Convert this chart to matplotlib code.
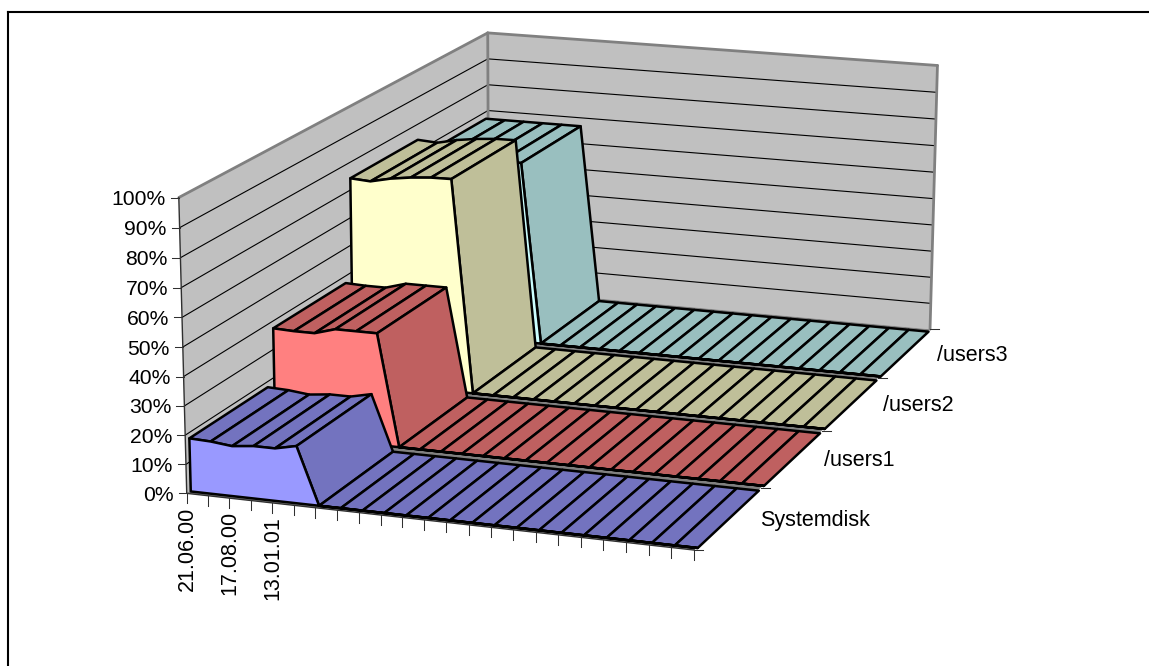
import numpy as np
import matplotlib
matplotlib.use("Agg")
import matplotlib.pyplot as plt
from matplotlib.lines import Line2D
from mpl_toolkits.mplot3d.art3d import Poly3DCollection, Line3DCollection
from mpl_toolkits.mplot3d import proj3d

plt.rcParams['font.family'] = ['Liberation Sans', 'DejaVu Sans']

# ---- data ----
series_names = ['Systemdisk', '/users1', '/users2', '/users3']
date_labels = ['21.06.00', '', '17.08.00', '', '13.01.01']
value_ticks = [0, 10, 20, 30, 40, 50, 60, 70, 80, 90, 100]
systemdisk = [18.3, 18, 17.2, 18, 18, 19.6, 0, 0, 0, 0, 0, 0, 0, 0, 0, 0, 0, 0, 0, 0, 0, 0, 0, 0]
users1 = [37.7, 37.4, 37.4, 39.5, 39.5, 39.5, 0, 0, 0, 0, 0, 0, 0, 0, 0, 0, 0, 0, 0, 0, 0, 0, 0, 0]
users2 = [74.5, 74, 75.6, 76.6, 77.2, 77.3, 0, 0, 0, 0, 0, 0, 0, 0, 0, 0, 0, 0, 0, 0, 0, 0, 0, 0]
users3 = [67.6, 67.6, 67.6, 67.6, 67.6, 67.6, 0, 0, 0, 0, 0, 0, 0, 0, 0, 0, 0, 0, 0, 0, 0, 0, 0, 0]
all_series = [systemdisk, users1, users2, users3]
front_colors = ['#9999FF', '#FF8080', '#FFFFCC', '#CCFFFF']
top_colors = ['#7373BF', '#BF6060', '#BFBF99', '#99BFBF']

# ---- camera: fitted from where the box corners sit on the canvas ----
W, H = 1149, 666
NX = len(systemdisk) - 1
ND = len(series_names)
TOP = value_ticks[-1]
box_corners = [(0, 0, 0), (0, 0, TOP), (0, ND, TOP), (0, ND, 0),
               (NX, ND, TOP), (NX, ND, 0), (NX, 0, 0)]
canvas_corners = [(186, 492), (179, 198), (488, 32), (489, 290),
                  (937, 66), (930, 328), (695, 551)]


def fit_camera(world, image):
    rows = []
    for (x, d, z), (u, v) in zip(world, image):
        p = [x / NX, d / ND, z / TOP, 1.0]
        rows.append(p + [0, 0, 0, 0] + [-u / W * c for c in p])
        rows.append([0, 0, 0, 0] + p + [-v / H * c for c in p])
    _, _, vt = np.linalg.svd(np.array(rows))
    P = vt[-1].reshape(3, 4)
    P = np.diag([W, H, 1.0]) @ P @ np.diag([1 / NX, 1 / ND, 1 / TOP, 1.0])
    return np.vstack([P[0], P[1], [0, 1, 0, 0], P[2]])


M = fit_camera(box_corners, canvas_corners)

fig = plt.figure(figsize=(W / 100, H / 100), dpi=100, facecolor='white')
ax = fig.add_axes([0, 0, 1, 1], projection='3d', computed_zorder=False)
ax.get_proj = lambda: M
ax.apply_aspect = lambda position=None: None
ax.M = M
ax.set_axis_off()
ax.viewLim.intervalx = (0, W)
ax.viewLim.intervaly = (H, 0)
ax.patch.set_visible(False)

order = [0]


def poly(verts, fc, ec='black', lw=1.8):
    order[0] += 1
    c = Poly3DCollection([verts], facecolors=fc, edgecolors=ec, linewidths=lw,
                         joinstyle='round', zorder=order[0])
    ax.add_collection3d(c, autolim=False)


def line(p, q, color='black', lw=0.8):
    order[0] += 1
    c = Line3DCollection([[p, q]], colors=color, linewidths=lw, zorder=order[0],
                         capstyle='round')
    ax.add_collection3d(c, autolim=False)


def px(x, d, z):
    u, v, _ = proj3d.proj_transform(x, d, z, M)
    return u, v


def screen_line(p, q, color='#303030', lw=0.75):
    fig.add_artist(Line2D([p[0] / W, q[0] / W], [1 - p[1] / H, 1 - q[1] / H],
                          color=color, lw=lw, transform=fig.transFigure))


def screen_text(u, v, s, size=15.5, **kw):
    fig.text(u / W, 1 - v / H, s, fontsize=size, color='black', **kw)


# walls and floor
poly([(0, 0, 0), (0, 0, TOP), (0, ND, TOP), (0, ND, 0)], '#C0C0C0', 'none', 0)
poly([(0, ND, 0), (0, ND, TOP), (NX, ND, TOP), (NX, ND, 0)], '#C0C0C0', 'none', 0)
poly([(0, 0, 0), (0, ND, 0), (NX, ND, 0), (NX, 0, 0)], '#808080', 'none', 0)
for z in value_ticks[1:-1]:
    line((0, 0, z), (0, ND, z))
    line((0, ND, z), (NX, ND, z))
for a, b in [((0, 0, TOP), (0, ND, TOP)), ((0, ND, TOP), (NX, ND, TOP)),
             ((0, ND, 0), (0, ND, TOP)), ((NX, ND, 0), (NX, ND, TOP))]:
    line(a, b, '#808080', 2.0)

# axis lines and ticks
line((0, 0, 0), (0, 0, TOP), '#303030', 1.0)
line((0, 0, 0), (NX, 0, 0), '#303030', 1.0)
for z in value_ticks:
    u, v = px(0, 0, z)
    screen_line((u - 8, v), (u, v))
    screen_text(u - 13, v + 2, f'{z}%', size=15.2, ha='right', va='center')
for i in range(NX + 1):
    u, v = px(i, 0, 0)
    screen_line((u, v), (u, v + 10))
    if i < len(date_labels) and date_labels[i]:
        screen_text(u + 1, v + 13, date_labels[i], rotation=90, ha='center', va='top')
for d in range(ND + 1):
    u, v = px(NX, d, 0)
    screen_line((u, v), (u + 9, v))
for d, name in enumerate(series_names):
    u, v = px(NX, d + 0.5, 0)
    screen_text(u + 32, v + 2, name, ha='left', va='center')

# series, back to front
GAP = 0.04
for k in range(ND - 1, -1, -1):
    vals = all_series[k]
    d0, d1 = k + GAP, k + 1 - GAP
    for i in range(NX):
        poly([(i, d0, vals[i]), (i, d1, vals[i]), (i + 1, d1, vals[i + 1]), (i + 1, d0, vals[i + 1])],
             top_colors[k])
    front = [(i, d0, vals[i]) for i in range(NX + 1)] + [(NX, d0, 0), (0, d0, 0)]
    poly(front, front_colors[k])

# outer frame
screen_line((7.5, 666), (7.5, 12), 'black', 1.5)
screen_line((7.5, 12), (1149, 12), 'black', 1.5)

fig.savefig('out.png', dpi=100)
